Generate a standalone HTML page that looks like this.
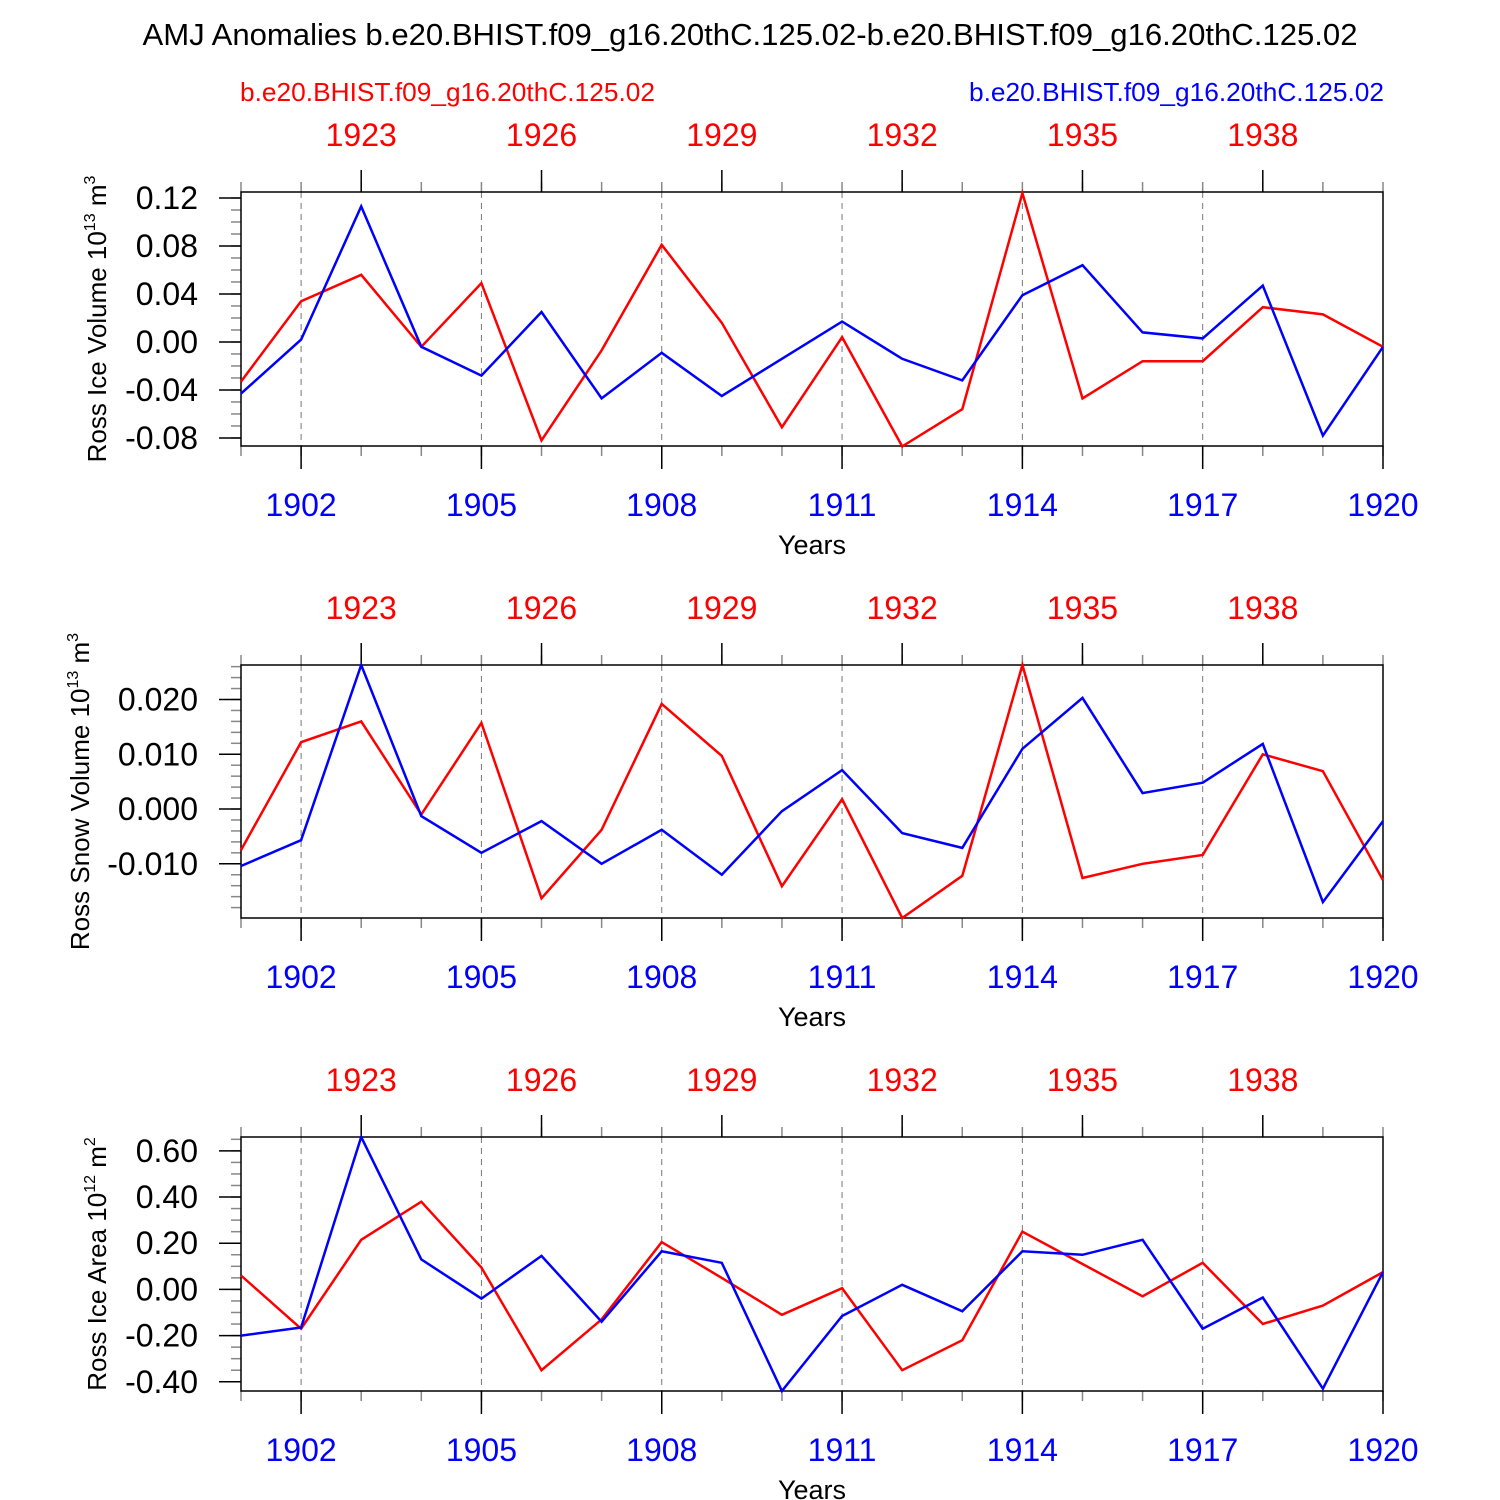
<!DOCTYPE html>
<html><head><meta charset="utf-8"><style>
body{margin:0;background:#fff}
svg{display:block;font-family:"Liberation Sans",sans-serif}
</style></head><body>
<svg id="chart" width="1500" height="1500" viewBox="0 0 1500 1500">
<text x="750" y="45" font-size="30.5" text-anchor="middle" textLength="1215" lengthAdjust="spacingAndGlyphs">AMJ Anomalies b.e20.BHIST.f09_g16.20thC.125.02-b.e20.BHIST.f09_g16.20thC.125.02</text>
<text x="240" y="101" font-size="26" fill="#f00" textLength="415" lengthAdjust="spacingAndGlyphs">b.e20.BHIST.f09_g16.20thC.125.02</text>
<text x="969" y="101" font-size="26" fill="#00f" textLength="415" lengthAdjust="spacingAndGlyphs">b.e20.BHIST.f09_g16.20thC.125.02</text>
</svg>
<script>
const years=[1901,1902,1903,1904,1905,1906,1907,1908,1909,1910,1911,1912,1913,1914,1915,1916,1917,1918,1919,1920];
const bottomTickYears=[1902,1905,1908,1911,1914,1917,1920];
const topTickYears=[1903,1906,1909,1912,1915,1918];
const topTickLabels=["1923","1926","1929","1932","1935","1938"];
const iceVolRed=[-0.033,0.034,0.056,-0.004,0.049,-0.082,-0.007,0.081,0.016,-0.071,0.004,-0.087,-0.056,0.124,-0.047,-0.016,-0.016,0.029,0.023,-0.004];
const iceVolBlue=[-0.043,0.002,0.113,-0.004,-0.028,0.025,-0.047,-0.009,-0.045,-0.014,0.017,-0.014,-0.032,0.039,0.064,0.008,0.003,0.047,-0.078,-0.004];
const snowVolRed=[-0.0075,0.0122,0.016,-0.001,0.0157,-0.0163,-0.0038,0.0192,0.0097,-0.0141,0.0018,-0.0199,-0.0122,0.0263,-0.0126,-0.010,-0.0084,0.010,0.0069,-0.013];
const snowVolBlue=[-0.0104,-0.0057,0.0263,-0.0013,-0.008,-0.0022,-0.010,-0.0038,-0.012,-0.0004,0.0071,-0.0044,-0.0071,0.011,0.0203,0.0029,0.0048,0.0119,-0.017,-0.0022];
const iceAreaRed=[0.06,-0.17,0.215,0.38,0.095,-0.35,-0.13,0.205,0.05,-0.11,0.005,-0.35,-0.22,0.25,0.11,-0.03,0.115,-0.15,-0.07,0.075];
const iceAreaBlue=[-0.20,-0.165,0.66,0.13,-0.04,0.145,-0.14,0.165,0.115,-0.44,-0.115,0.02,-0.095,0.165,0.15,0.215,-0.17,-0.035,-0.43,0.075];
const iceVolTicks=[-0.08,-0.04,0,0.04,0.08,0.12];
const snowVolTicks=[-0.010,0,0.010,0.020];
const iceAreaTicks=[-0.40,-0.20,0,0.20,0.40,0.60];

const NS='http://www.w3.org/2000/svg';
const svg=document.getElementById('chart');
function mk(tag,attrs,parent){const e=document.createElementNS(NS,tag);for(const k in attrs)e.setAttribute(k,attrs[k]);(parent||svg).appendChild(e);return e;}
const X0=241,X1=1383;
function xs(y){return X0+(y-1901)*(X1-X0)/19;}

const panels=[
 {name:'ice-volume',top:192,bot:446,vmin:-0.0867,vmax:0.125,ticks:iceVolTicks,dec:2,minor:0.01,red:iceVolRed,blue:iceVolBlue,t1:'Ross Ice Volume 10',sup:'13',t2:' m',sup2:'3',tx:106},
 {name:'snow-volume',top:665,bot:918,vmin:-0.0199,vmax:0.0263,ticks:snowVolTicks,dec:3,minor:0.002,red:snowVolRed,blue:snowVolBlue,t1:'Ross Snow Volume 10',sup:'13',t2:' m',sup2:'3',tx:89},
 {name:'ice-area',top:1137,bot:1391,vmin:-0.44,vmax:0.66,ticks:iceAreaTicks,dec:2,minor:0.05,red:iceAreaRed,blue:iceAreaBlue,t1:'Ross Ice Area 10',sup:'12',t2:' m',sup2:'2',tx:106}
];
panels.forEach(p=>{
 const g=mk('g',{});
 
 
 const ys=v=>p.bot-(v-p.vmin)*(p.bot-p.top)/(p.vmax-p.vmin);
 bottomTickYears.forEach(y=>{if(y<1920){const l=mk('line',{x1:xs(y),x2:xs(y),y1:p.top,y2:p.bot,stroke:'#777','stroke-width':1,'stroke-dasharray':'6,5'},g);}});
 years.forEach(y=>{
  mk('line',{x1:xs(y),x2:xs(y),y1:p.bot,y2:p.bot+10,stroke:'#888','stroke-width':1.5},g);
  mk('line',{x1:xs(y),x2:xs(y),y1:p.top,y2:p.top-10,stroke:'#888','stroke-width':1.5},g);
 });
 bottomTickYears.forEach(y=>{
  mk('line',{x1:xs(y),x2:xs(y),y1:p.bot,y2:p.bot+23,stroke:'#000','stroke-width':1.5},g);
  const t=mk('text',{x:xs(y),y:p.bot+70,'font-size':32,fill:'#00f','text-anchor':'middle'},g);t.textContent=y;
  
 });
 topTickYears.forEach((y,i)=>{
  mk('line',{x1:xs(y),x2:xs(y),y1:p.top,y2:p.top-22,stroke:'#000','stroke-width':1.5},g);
  const t=mk('text',{x:xs(y),y:p.top-46,'font-size':32,fill:'#f00','text-anchor':'middle'},g);t.textContent=topTickLabels[i];
  
 });
 const n0=Math.ceil(p.vmin/p.minor-1e-6),n1=Math.floor(p.vmax/p.minor+1e-6);
 for(let k=n0;k<=n1;k++){const v=k*p.minor;mk('line',{x1:X0,x2:X0-10,y1:ys(v),y2:ys(v),stroke:'#888','stroke-width':1.5},g);}
 p.ticks.forEach(v=>{
  mk('line',{x1:X0,x2:X0-22,y1:ys(v),y2:ys(v),stroke:'#000','stroke-width':1.5},g);
  const t=mk('text',{x:X0-43,y:ys(v)+11,'font-size':32,'text-anchor':'end'},g);t.textContent=v.toFixed(p.dec);
  
 });
 const fr=mk('rect',{x:X0,y:p.top,width:X1-X0,height:p.bot-p.top,fill:'none',stroke:'#000','stroke-width':1.5},g);
 
 [['red',p.red,'#f00'],['blue',p.blue,'#00f']].forEach(([nm,arr,c])=>{
  const pts=arr.map((v,i)=>xs(years[i]).toFixed(1)+','+ys(v).toFixed(1)).join(' ');
  const pl=mk('polyline',{points:pts,fill:'none',stroke:c,'stroke-width':2.5,'stroke-linejoin':'miter'},g);
  
 });
 const xt=mk('text',{x:812,y:p.bot+108,'font-size':27,'text-anchor':'middle'},g);xt.textContent='Years';
 
 const cy=(p.top+p.bot)/2;
 const yt=mk('text',{x:0,y:0,'font-size':26,'text-anchor':'middle',transform:'translate('+p.tx+','+cy+') rotate(-90)'},g);
 
 const a=mk('tspan',{},yt);a.textContent=p.t1;
 const b=mk('tspan',{dy:-11,'font-size':16},yt);b.textContent=p.sup;
 const c=mk('tspan',{dy:11},yt);c.textContent=p.t2;
 const d=mk('tspan',{dy:-11,'font-size':16},yt);d.textContent=p.sup2;
});
</script>
</body></html>
